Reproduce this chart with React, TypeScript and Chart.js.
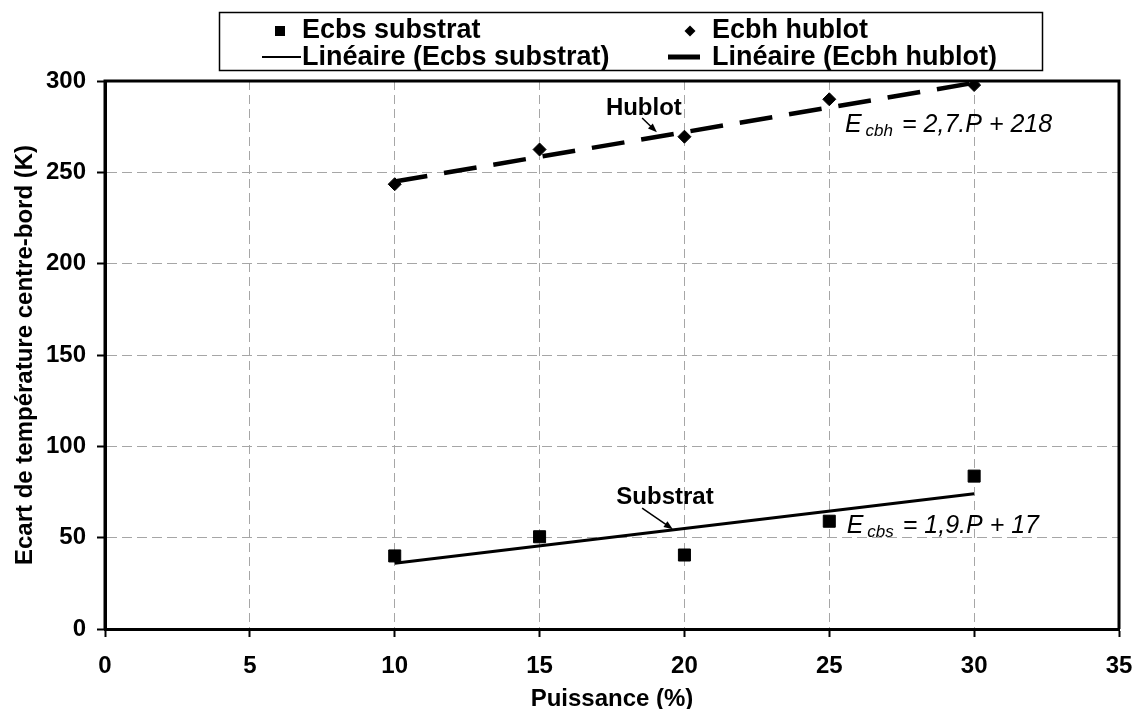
import { useEffect, useRef } from "react";
import { Chart, registerables } from "chart.js";

Chart.register(...registerables);

// ---- data ----
const powerLevels = [10, 15, 20, 25, 30];
const substratValues = [40, 50.5, 40.5, 59, 83.7];
const hublotValues = [243.5, 262.5, 269.5, 290, 297.8];
const trendX = [10, 30];
const substratTrend = [36, 74];
const hublotTrend = [245, 299];
const xTickValues = [0, 5, 10, 15, 20, 25, 30, 35];
const yTickValues = [0, 50, 100, 150, 200, 250, 300];
const legendLabels = [
  "Ecbs substrat",
  "Ecbh hublot",
  "Linéaire (Ecbs substrat)",
  "Linéaire (Ecbh hublot)",
];
const xTitle = "Puissance (%)";
const yTitle = "Ecart de température centre-bord (K)";
const hublotLabel = "Hublot";
const substratLabel = "Substrat";
const hublotEq = ["E", "cbh", "= 2,7.P + 218"];
const substratEq = ["E", "cbs", "= 1,9.P + 17"];

const FONT = "'Liberation Sans', Arial, Helvetica, sans-serif";
const GRID = "#a6a6a6";

function arrow(ctx: CanvasRenderingContext2D, x1: number, y1: number, x2: number, y2: number) {
  const ang = Math.atan2(y2 - y1, x2 - x1);
  const len = 9;
  const w = 3.5;
  ctx.save();
  ctx.strokeStyle = "#000";
  ctx.fillStyle = "#000";
  ctx.lineWidth = 1.5;
  ctx.beginPath();
  ctx.moveTo(x1, y1);
  ctx.lineTo(x2 - Math.cos(ang) * len * 0.8, y2 - Math.sin(ang) * len * 0.8);
  ctx.stroke();
  ctx.beginPath();
  ctx.moveTo(x2, y2);
  ctx.lineTo(
    x2 - Math.cos(ang) * len + Math.sin(ang) * w,
    y2 - Math.sin(ang) * len - Math.cos(ang) * w
  );
  ctx.lineTo(
    x2 - Math.cos(ang) * len - Math.sin(ang) * w,
    y2 - Math.sin(ang) * len + Math.cos(ang) * w
  );
  ctx.closePath();
  ctx.fill();
  ctx.restore();
}

function equation(ctx: CanvasRenderingContext2D, parts: string[], x: number, y: number) {
  ctx.save();
  ctx.fillStyle = "#000";
  ctx.textAlign = "left";
  ctx.textBaseline = "alphabetic";
  ctx.font = `italic 25px ${FONT}`;
  ctx.fillText(parts[0], x, y);
  let cx = x + ctx.measureText(parts[0]).width + 4;
  ctx.font = `italic 17px ${FONT}`;
  ctx.fillText(parts[1], cx, y + 4);
  cx += ctx.measureText(parts[1]).width + 9;
  ctx.font = `italic 25px ${FONT}`;
  ctx.fillText(parts[2], cx, y);
  ctx.restore();
}

const decorPlugin = {
  id: "decor",
  afterDatasetsDraw(chart: any) {
    const ctx: CanvasRenderingContext2D = chart.ctx;
    const xs = chart.scales.x;
    const ys = chart.scales.y;
    const px = (v: number) => xs.getPixelForValue(v);
    const py = (v: number) => ys.getPixelForValue(v);

    ctx.save();
    ctx.fillStyle = "#000";
    ctx.font = `bold 24px ${FONT}`;
    ctx.textAlign = "center";
    ctx.textBaseline = "middle";
    ctx.fillText(hublotLabel, px(18.6), py(285.2));
    ctx.fillText(substratLabel, px(19.33), py(72.3));
    ctx.restore();
    arrow(ctx, px(18.54), py(279.7), px(19.05), py(272.0));
    arrow(ctx, px(18.54), py(66.2), px(19.6), py(54.6));

    equation(ctx, hublotEq, px(25.54), py(272.1));
    equation(ctx, substratEq, px(25.6), py(52.5));
  },
  afterDraw(chart: any) {
    const ctx: CanvasRenderingContext2D = chart.ctx;
    const a = chart.chartArea;
    ctx.save();
    ctx.strokeStyle = "#000";
    ctx.lineWidth = 3;
    ctx.beginPath();
    ctx.moveTo(a.left, a.bottom);
    ctx.lineTo(a.left, a.top);
    ctx.lineTo(a.right, a.top);
    ctx.lineTo(a.right, a.bottom);
    ctx.stroke();
    ctx.restore();

    // legend
    const bx = 219, by = 12, bw = 823, bh = 58;
    const col1 = 219, col2 = 629;
    const r1 = 31, r2 = 57;
    ctx.save();
    ctx.fillStyle = "#fff";
    ctx.fillRect(bx, by, bw, bh);
    ctx.strokeStyle = "#000";
    ctx.lineWidth = 1.5;
    ctx.strokeRect(bx + 0.5, by + 0.5, bw, bh);
    ctx.fillStyle = "#000";
    ctx.fillRect(col1 + 61 - 5, r1 - 5, 10, 10);
    const dx = col2 + 61;
    ctx.beginPath();
    ctx.moveTo(dx - 5.5, r1);
    ctx.lineTo(dx, r1 - 5.5);
    ctx.lineTo(dx + 5.5, r1);
    ctx.lineTo(dx, r1 + 5.5);
    ctx.closePath();
    ctx.fill();
    ctx.strokeStyle = "#000";
    ctx.lineWidth = 2;
    ctx.beginPath();
    ctx.moveTo(col1 + 43, r2);
    ctx.lineTo(col1 + 82, r2);
    ctx.stroke();
    ctx.lineWidth = 5;
    ctx.beginPath();
    ctx.moveTo(col2 + 39, r2);
    ctx.lineTo(col2 + 71, r2);
    ctx.stroke();
    ctx.font = `bold 27px ${FONT}`;
    ctx.textAlign = "left";
    ctx.textBaseline = "alphabetic";
    ctx.fillText(legendLabels[0], col1 + 83, 38);
    ctx.fillText(legendLabels[1], col2 + 83, 38);
    ctx.fillText(legendLabels[2], col1 + 83, 65);
    ctx.fillText(legendLabels[3], col2 + 83, 65);
    ctx.restore();
  },
};

export default function App() {
  const ref = useRef<HTMLCanvasElement>(null);

  useEffect(() => {
    if (!ref.current) return;
    const tickFont = { family: FONT, size: 24, weight: "bold" as const };
    const gridColor = (c: any) => {
      const v = c.tick ? c.tick.value : null;
      return v === 0 || v === 35 || v === 300 ? "rgba(0,0,0,0)" : GRID;
    };
    const chart = new Chart(ref.current, {
      type: "scatter",
      data: {
        datasets: [
          {
            type: "line",
            label: legendLabels[2],
            data: trendX.map((x, i) => ({ x, y: substratTrend[i] })),
            borderColor: "#000",
            borderWidth: 3,
            pointRadius: 0,
            fill: false,
            order: 3,
          },
          {
            type: "line",
            label: legendLabels[3],
            data: trendX.map((x, i) => ({ x, y: hublotTrend[i] })),
            borderColor: "#000",
            borderWidth: 4.5,
            borderDash: [33, 17],
            borderCapStyle: "butt",
            pointRadius: 0,
            fill: false,
            order: 4,
          },
          {
            type: "scatter",
            label: legendLabels[0],
            data: powerLevels.map((x, i) => ({ x, y: substratValues[i] })),
            pointStyle: "rect",
            pointRadius: 8.5,
            backgroundColor: "#000",
            borderColor: "#000",
            borderWidth: 1,
            order: 1,
          },
          {
            type: "scatter",
            label: legendLabels[1],
            data: powerLevels.map((x, i) => ({ x, y: hublotValues[i] })),
            pointStyle: "rectRot",
            pointRadius: 6.5,
            backgroundColor: "#000",
            borderColor: "#000",
            borderWidth: 1,
            order: 2,
          },
        ] as any,
      },
      options: {
        responsive: false,
        animation: false,
        devicePixelRatio: 1,
        layout: { padding: { top: 81, right: 17, left: 0, bottom: 0 } },
        plugins: {
          legend: { display: false },
          tooltip: { enabled: false },
        },
        scales: {
          x: {
            type: "linear",
            min: xTickValues[0],
            max: xTickValues[xTickValues.length - 1],
            afterBuildTicks: (s: any) => {
              s.ticks = xTickValues.map((v) => ({ value: v }));
            },
            afterFit: (s: any) => {
              s.height = 80;
              s.paddingLeft = 0;
              s.paddingRight = 0;
            },
            ticks: {
              font: tickFont,
              color: "#000",
              padding: 15,
              maxRotation: 0,
              autoSkip: false,
            },
            grid: {
              color: gridColor,
              lineWidth: 1,
              tickColor: "#000",
              tickLength: 8,
              tickWidth: 2,
            },
            border: { display: true, color: "#000", width: 3, dash: [9, 5] },
            title: {
              display: true,
              text: xTitle,
              color: "#000",
              font: { family: FONT, size: 24, weight: "bold", lineHeight: 0.8 },
              padding: { top: 0, bottom: 0 },
            },
          },
          y: {
            type: "linear",
            min: yTickValues[0],
            max: yTickValues[yTickValues.length - 1],
            afterBuildTicks: (s: any) => {
              s.ticks = yTickValues.map((v) => ({ value: v }));
            },
            afterFit: (s: any) => {
              s.width = 105;
              s.paddingTop = 0;
              s.paddingBottom = 0;
            },
            ticks: {
              font: tickFont,
              color: "#000",
              padding: 11,
              autoSkip: false,
            },
            grid: {
              color: gridColor,
              lineWidth: 1,
              tickColor: "#000",
              tickLength: 8,
              tickWidth: 2,
            },
            border: { display: true, color: "#000", width: 3, dash: [10, 5] },
            title: {
              display: true,
              text: yTitle,
              color: "#000",
              font: { family: FONT, size: 24, weight: "bold" },
              padding: { top: 11, bottom: 0 },
            },
          },
        },
      } as any,
      plugins: [decorPlugin],
    });
    return () => chart.destroy();
  }, []);

  return (
    <div
      style={{
        position: "fixed",
        left: 0,
        top: 0,
        width: 1136,
        height: 709,
        background: "#fff",
      }}
    >
      <canvas
        ref={ref}
        width={1136}
        height={709}
        style={{ display: "block", width: 1136, height: 709 }}
      />
    </div>
  );
}
